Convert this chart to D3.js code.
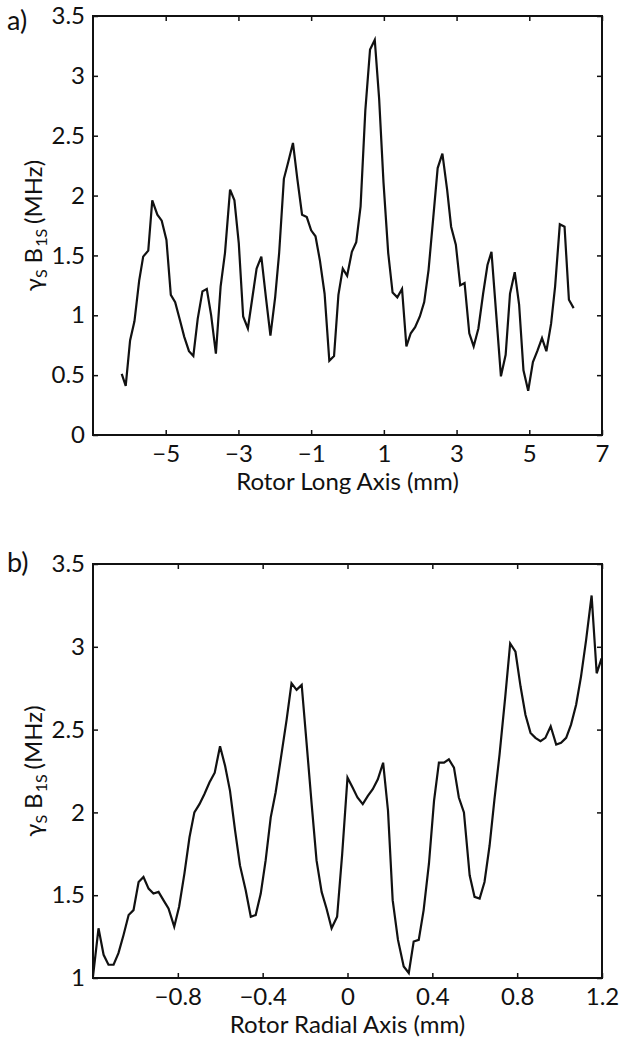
<!DOCTYPE html>
<html>
<head>
<meta charset="utf-8">
<script src="https://cdn.jsdelivr.net/npm/d3@7"></script>
<style>
  body { margin: 0; background: #fff; }
  svg text { font-family: Lato, "Noto Sans", sans-serif; fill: #111; }
</style>
</head>
<body>
<svg id="chart" width="624" height="1050"></svg>
<script>
// panel a) - rotor long axis
var longX = [-6.21, -6.10, -5.98, -5.86, -5.73, -5.62, -5.48, -5.37, -5.23, -5.11,
  -4.98, -4.86, -4.74, -4.61, -4.49, -4.36, -4.24, -4.12, -3.99, -3.87,
  -3.75, -3.62, -3.49, -3.37, -3.23, -3.11, -2.99, -2.87, -2.74, -2.62,
  -2.50, -2.37, -2.24, -2.12, -1.99, -1.88, -1.75, -1.63, -1.50, -1.38,
  -1.25, -1.12, -1.00, -0.88, -0.76, -0.63, -0.50, -0.37, -0.25, -0.13,
  -0.01, 0.12, 0.24, 0.36, 0.49, 0.62, 0.75, 0.87, 0.99, 1.12,
  1.24, 1.37, 1.50, 1.62, 1.74, 1.86, 1.99, 2.11, 2.23, 2.36,
  2.48, 2.61, 2.74, 2.85, 2.98, 3.10, 3.22, 3.35, 3.47, 3.60,
  3.73, 3.85, 3.96, 4.10, 4.22, 4.35, 4.47, 4.60, 4.72, 4.84,
  4.97, 5.10, 5.22, 5.35, 5.47, 5.60, 5.71, 5.84, 5.97, 6.09, 6.22];
var longY = [0.51, 0.41, 0.79, 0.95, 1.29, 1.49, 1.54, 1.96, 1.84, 1.79,
  1.63, 1.17, 1.11, 0.96, 0.82, 0.70, 0.66, 0.97, 1.20, 1.22,
  1.00, 0.68, 1.24, 1.52, 2.05, 1.96, 1.60, 0.99, 0.89, 1.14,
  1.39, 1.49, 1.14, 0.83, 1.15, 1.52, 2.14, 2.28, 2.44, 2.14,
  1.84, 1.82, 1.71, 1.66, 1.46, 1.18, 0.62, 0.66, 1.17, 1.39,
  1.33, 1.53, 1.61, 1.91, 2.71, 3.22, 3.30, 2.81, 2.11, 1.52,
  1.19, 1.15, 1.22, 0.74, 0.85, 0.90, 0.99, 1.11, 1.38, 1.82,
  2.23, 2.35, 2.05, 1.74, 1.59, 1.25, 1.27, 0.85, 0.74, 0.89,
  1.18, 1.42, 1.53, 0.97, 0.49, 0.67, 1.18, 1.36, 1.09, 0.54,
  0.37, 0.61, 0.70, 0.81, 0.70, 0.93, 1.24, 1.76, 1.74, 1.13, 1.06];
var longXTicks = [-5, -3, -1, 1, 3, 5, 7];
var longYTicks = [0, 0.5, 1, 1.5, 2, 2.5, 3, 3.5];

// panel b) - rotor radial axis
var radX = [-1.200, -1.174, -1.150, -1.127, -1.103, -1.080, -1.056, -1.032, -1.009, -0.985,
  -0.962, -0.938, -0.915, -0.891, -0.868, -0.844, -0.817, -0.794, -0.769, -0.745,
  -0.722, -0.698, -0.675, -0.651, -0.626, -0.601, -0.577, -0.554, -0.530, -0.507,
  -0.480, -0.456, -0.433, -0.409, -0.386, -0.362, -0.339, -0.315, -0.287, -0.264,
  -0.240, -0.216, -0.193, -0.169, -0.146, -0.122, -0.099, -0.075, -0.049, -0.025,
  0.000, 0.024, 0.047, 0.072, 0.096, 0.119, 0.143, 0.168, 0.191, 0.213,
  0.238, 0.265, 0.289, 0.312, 0.336, 0.359, 0.384, 0.408, 0.431, 0.455,
  0.478, 0.502, 0.525, 0.549, 0.576, 0.599, 0.623, 0.646, 0.670, 0.693,
  0.717, 0.744, 0.767, 0.792, 0.816, 0.839, 0.863, 0.886, 0.910, 0.933,
  0.958, 0.984, 1.007, 1.031, 1.054, 1.078, 1.101, 1.125, 1.151, 1.175, 1.198];
var radY = [1.01, 1.30, 1.14, 1.08, 1.08, 1.15, 1.26, 1.38, 1.41, 1.58,
  1.61, 1.54, 1.51, 1.52, 1.47, 1.42, 1.31, 1.43, 1.63, 1.85,
  2.00, 2.05, 2.11, 2.18, 2.24, 2.40, 2.28, 2.13, 1.89, 1.68,
  1.53, 1.37, 1.38, 1.51, 1.71, 1.97, 2.12, 2.32, 2.56, 2.78,
  2.74, 2.77, 2.42, 2.05, 1.71, 1.52, 1.42, 1.30, 1.37, 1.75,
  2.21, 2.15, 2.09, 2.05, 2.10, 2.14, 2.20, 2.30, 2.01, 1.47,
  1.23, 1.07, 1.03, 1.22, 1.23, 1.41, 1.69, 2.07, 2.30, 2.30,
  2.32, 2.27, 2.09, 2.00, 1.62, 1.49, 1.48, 1.58, 1.80, 2.08,
  2.35, 2.70, 3.02, 2.97, 2.76, 2.59, 2.48, 2.45, 2.43, 2.45,
  2.52, 2.41, 2.42, 2.45, 2.53, 2.65, 2.82, 3.04, 3.31, 2.84, 2.93];
var radXTicks = [-0.8, -0.4, 0, 0.4, 0.8, 1.2];
var radYTicks = [1, 1.5, 2, 2.5, 3, 3.5];

var svg = d3.select("#chart");
var FS = 24;

function fmt(v) {
  var s = String(v);
  return s.charAt(0) === "-" ? "\u2212" + s.slice(1) : s;
}

function drawPanel(opt) {
  var g = svg.append("g").attr("transform", "translate(" + opt.left + "," + opt.top + ")");
  var w = opt.width, h = opt.height;
  var x = d3.scaleLinear().domain(opt.xDomain).range([0, w]);
  var y = d3.scaleLinear().domain(opt.yDomain).range([h, 0]);

  // bottom / left axes with labels, ticks pointing in
  var xb = g.append("g").attr("transform", "translate(0," + h + ")")
    .call(d3.axisBottom(x).tickValues(opt.xTicks).tickSizeInner(-5).tickSizeOuter(0)
      .tickPadding(10).tickFormat(fmt));
  var yl = g.append("g")
    .call(d3.axisLeft(y).tickValues(opt.yTicks).tickSizeInner(-5).tickSizeOuter(0)
      .tickPadding(8).tickFormat(fmt));
  // top / right axes, ticks only
  var xt = g.append("g")
    .call(d3.axisTop(x).tickValues(opt.xTicks).tickSizeInner(-5).tickSizeOuter(0).tickFormat(""));
  var yr = g.append("g").attr("transform", "translate(" + w + ",0)")
    .call(d3.axisRight(y).tickValues(opt.yTicks).tickSizeInner(-5).tickSizeOuter(0).tickFormat(""));

  [xb, yl, xt, yr].forEach(function (a) {
    a.select(".domain").remove();
    a.selectAll(".tick line").attr("stroke", "#111").attr("stroke-width", 1.5);
    a.selectAll(".tick text").attr("font-size", FS).attr("font-family", "Lato, 'Noto Sans', sans-serif").attr("fill", "#111");
  });

  g.append("rect").attr("x", 0).attr("y", 0).attr("width", w).attr("height", h)
    .attr("fill", "none").attr("stroke", "#111").attr("stroke-width", 2);

  var line = d3.line()
    .x(function (d, i) { return x(opt.xs[i]); })
    .y(function (d) { return y(d); });
  g.append("path").datum(opt.ys)
    .attr("d", line)
    .attr("fill", "none").attr("stroke", "#111").attr("stroke-width", 2.2)
    .attr("stroke-linejoin", "miter");

  // x axis title
  g.append("text").attr("x", w / 2).attr("y", h + 55)
    .attr("text-anchor", "middle").attr("font-size", FS).text(opt.xTitle);

  // y axis title with subscripts
  var yt = g.append("text")
    .attr("transform", "translate(" + (-51) + "," + (h / 2) + ") rotate(-90)")
    .attr("text-anchor", "middle").attr("font-size", FS)
    .attr("xml:space", "preserve");
  yt.append("tspan").text("\u03B3");
  yt.append("tspan").attr("font-size", 16).attr("dy", 5).text("S");
  yt.append("tspan").attr("dy", -5).attr("dx", 6).text("B");
  yt.append("tspan").attr("font-size", 16).attr("dy", 5).attr("dx", 1).text("1S");
  yt.append("tspan").attr("dy", -5).attr("dx", 5).text("(MHz)");

  // panel letter
  svg.append("text").attr("x", 7).attr("y", opt.letterY)
    .attr("font-size", 27).text(opt.letter);
}

drawPanel({
  left: 93, top: 16, width: 509, height: 419,
  xDomain: [-7, 7], yDomain: [0, 3.5],
  xTicks: longXTicks, yTicks: longYTicks,
  xs: longX, ys: longY,
  xTitle: "Rotor Long Axis (mm)", letter: "a)", letterY: 30
});

drawPanel({
  left: 93, top: 564, width: 509, height: 414,
  xDomain: [-1.2, 1.2], yDomain: [1, 3.5],
  xTicks: radXTicks, yTicks: radYTicks,
  xs: radX, ys: radY,
  xTitle: "Rotor Radial Axis (mm)", letter: "b)", letterY: 572
});
</script>
</body>
</html>
